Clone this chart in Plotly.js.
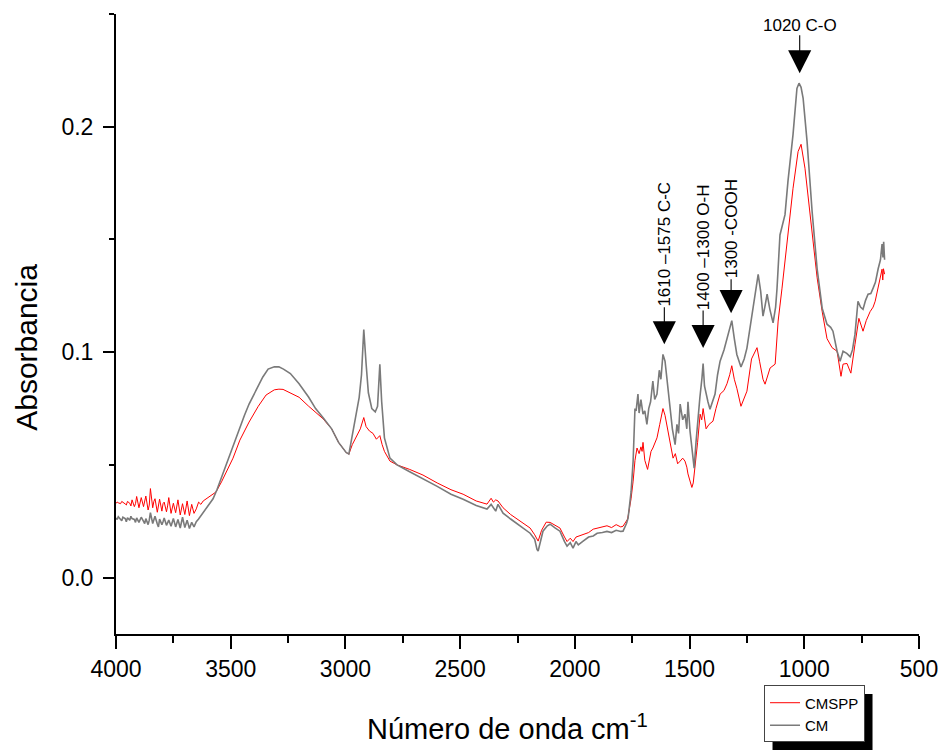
<!DOCTYPE html>
<html>
<head>
<meta charset="utf-8">
<script src="https://cdn.plot.ly/plotly-3.0.1.min.js"></script>
<style>html,body{margin:0;padding:0;background:#fff}#chart{width:942px;height:751px}</style>
</head>
<body>
<div id="chart"></div>
<script>
// CM (gray) spectrum: wavenumber (cm-1) and absorbance
const cmX = [4000,3995,3990,3980,3975,3970,3960,3955,3950,3940,3935,3930,3920,3915,3910,3900,3895,3890,3880,3875,3870,3860,3855,3850,3840,3835,3830,3820,3815,3810,3800,3795,3790,3780,3775,3770,3760,3755,3750,3740,3735,3730,3720,3715,3710,3700,3695,3690,3680,3675,3670,3660,3650,3640,3630,3620,3610,3600,3590,3577,3560,3540,3520,3500,3470,3440,3420,3390,3360,3337,3310,3290,3270,3240,3202,3160,3130,3098,3060,3030,2997,2985,2970,2955,2940,2930,2920,2910,2900,2885,2870,2860,2850,2842,2830,2806,2775,2720,2662,2600,2540,2487,2430,2383,2365,2355,2345,2335,2313,2280,2240,2195,2175,2165,2160,2150,2139,2120,2108,2085,2065,2045,2034,2020,2008,1995,1985,1964,1940,1920,1903,1880,1860,1840,1820,1800,1790,1775,1768,1755,1746,1738,1733,1725,1720,1712,1703,1695,1686,1678,1670,1660,1652,1642,1632,1625,1616,1607,1595,1585,1575,1563,1555,1548,1541,1530,1520,1512,1507,1498,1490,1480,1472,1463,1455,1446,1441,1435,1428,1420,1411,1400,1389,1378,1367,1350,1337,1325,1316,1305,1294,1276,1262,1250,1223,1210,1201,1190,1180,1172,1162,1150,1136,1125,1119,1106,1084,1071,1049,1032,1023,1014,1005,988,966,944,922,901,885,875,857,844,831,815,800,790,779,766,755,744,733,722,710,700,690,678,668,661,657,654,650];
const cmY = [0.0265,0.0258,0.027,0.026,0.0252,0.0268,0.0262,0.0248,0.0266,0.0255,0.0272,0.0262,0.0258,0.0245,0.0265,0.0245,0.0262,0.0268,0.025,0.024,0.0262,0.0235,0.0255,0.0288,0.024,0.0258,0.0272,0.0238,0.0225,0.026,0.0235,0.0248,0.0265,0.0232,0.0245,0.0255,0.0228,0.0242,0.0262,0.0225,0.0238,0.0258,0.022,0.0245,0.0268,0.0222,0.024,0.0255,0.0218,0.0232,0.0245,0.0225,0.0248,0.026,0.0275,0.029,0.0305,0.032,0.0335,0.035,0.039,0.0445,0.050,0.056,0.064,0.072,0.077,0.083,0.089,0.0925,0.0935,0.0935,0.0925,0.0905,0.086,0.080,0.075,0.071,0.066,0.060,0.0555,0.0548,0.063,0.072,0.080,0.090,0.110,0.095,0.082,0.075,0.0735,0.076,0.0946,0.078,0.062,0.053,0.050,0.047,0.044,0.0405,0.037,0.0348,0.032,0.0304,0.0325,0.031,0.0295,0.0325,0.0286,0.026,0.023,0.0197,0.017,0.0125,0.0118,0.016,0.0206,0.023,0.0237,0.022,0.0206,0.016,0.014,0.0155,0.0131,0.016,0.0145,0.0162,0.018,0.0185,0.0197,0.020,0.0205,0.020,0.021,0.0205,0.0206,0.024,0.0264,0.038,0.0517,0.075,0.074,0.0814,0.073,0.079,0.0725,0.074,0.068,0.075,0.078,0.0872,0.079,0.0814,0.092,0.088,0.099,0.096,0.085,0.075,0.066,0.059,0.068,0.064,0.077,0.070,0.0725,0.066,0.078,0.065,0.0575,0.0486,0.060,0.0725,0.080,0.0885,0.095,0.085,0.0814,0.078,0.0747,0.078,0.0814,0.090,0.096,0.101,0.106,0.110,0.114,0.106,0.099,0.0934,0.097,0.1018,0.121,0.130,0.1345,0.127,0.116,0.120,0.1257,0.119,0.113,0.120,0.128,0.152,0.161,0.176,0.1966,0.217,0.2193,0.2175,0.2126,0.1936,0.1625,0.137,0.1195,0.1124,0.111,0.1093,0.1004,0.096,0.1004,0.0995,0.098,0.101,0.108,0.1226,0.120,0.119,0.123,0.1257,0.126,0.1284,0.131,0.137,0.141,0.148,0.142,0.149,0.141];

// CMSPP (red) spectrum
const cmsppX = [4000,3995,3990,3980,3975,3970,3960,3955,3950,3940,3935,3930,3920,3915,3910,3900,3895,3890,3880,3875,3870,3860,3855,3850,3840,3835,3830,3820,3815,3810,3800,3795,3790,3780,3775,3770,3760,3755,3750,3740,3735,3730,3720,3715,3710,3700,3695,3690,3680,3675,3670,3660,3650,3640,3630,3620,3600,3580,3564,3540,3520,3490,3460,3420,3380,3346,3310,3290,3272,3240,3202,3160,3128,3098,3060,3030,2997,2985,2970,2950,2935,2920,2910,2895,2880,2865,2850,2840,2830,2806,2775,2720,2662,2600,2540,2487,2430,2383,2365,2355,2345,2335,2313,2280,2240,2195,2175,2160,2145,2125,2108,2085,2065,2045,2034,2020,2008,1995,1964,1940,1920,1903,1880,1860,1840,1820,1800,1790,1770,1755,1746,1738,1729,1720,1712,1707,1703,1695,1683,1675,1668,1660,1650,1642,1630,1616,1607,1595,1585,1572,1562,1552,1541,1530,1520,1512,1507,1498,1490,1484,1476,1465,1454,1447,1441,1428,1415,1398,1385,1367,1350,1337,1325,1316,1305,1294,1276,1265,1250,1230,1215,1206,1195,1180,1171,1160,1149,1127,1114,1097,1075,1049,1027,1014,997,984,966,944,922,901,879,857,840,831,814,797,779,762,744,730,713,700,691,674,665,661,658,655,650];
const cmsppY = [0.033,0.0335,0.0332,0.0328,0.0338,0.0335,0.0327,0.0322,0.0338,0.033,0.0318,0.0345,0.0315,0.0328,0.036,0.031,0.0335,0.0355,0.0315,0.0342,0.0362,0.030,0.0322,0.0395,0.031,0.0338,0.035,0.029,0.0315,0.0348,0.0295,0.0328,0.0335,0.0292,0.0318,0.0355,0.0285,0.0305,0.033,0.0288,0.0312,0.0345,0.0278,0.0302,0.0328,0.028,0.0315,0.034,0.0275,0.0298,0.0325,0.0285,0.0305,0.0335,0.0325,0.034,0.0355,0.037,0.038,0.0425,0.047,0.053,0.061,0.069,0.076,0.081,0.0833,0.0836,0.0835,0.082,0.080,0.076,0.073,0.0705,0.066,0.060,0.0555,0.0548,0.059,0.063,0.066,0.071,0.067,0.065,0.064,0.0614,0.063,0.059,0.056,0.0517,0.050,0.048,0.0455,0.042,0.039,0.037,0.034,0.0326,0.0352,0.0335,0.0345,0.034,0.031,0.028,0.025,0.022,0.019,0.0162,0.021,0.0246,0.0245,0.023,0.022,0.018,0.016,0.0175,0.016,0.018,0.0193,0.020,0.0215,0.022,0.0225,0.023,0.0222,0.0235,0.0225,0.0228,0.026,0.035,0.0428,0.052,0.0575,0.055,0.058,0.056,0.060,0.052,0.048,0.052,0.056,0.0575,0.060,0.062,0.068,0.075,0.072,0.066,0.060,0.053,0.055,0.0505,0.0517,0.053,0.0517,0.049,0.046,0.043,0.040,0.042,0.0486,0.060,0.0725,0.070,0.075,0.066,0.068,0.0694,0.075,0.0814,0.083,0.086,0.090,0.094,0.088,0.084,0.076,0.079,0.0827,0.097,0.100,0.102,0.096,0.088,0.0858,0.090,0.093,0.0947,0.1138,0.1284,0.149,0.1727,0.189,0.1922,0.1816,0.170,0.152,0.133,0.118,0.106,0.102,0.1004,0.0893,0.0947,0.095,0.0907,0.1035,0.115,0.1093,0.114,0.118,0.120,0.1226,0.1315,0.135,0.1368,0.132,0.137,0.1346];

// Band annotations: position (cm-1), arrow tip absorbance, label
const bandX = [1020, 1610, 1441, 1319];
const bandTip = [0.2237, 0.1035, 0.1018, 0.1173];
const bandLabels = ['1020 C-O', '1610 \u20131575 C-C', '1400 \u20131300 O-H', '1300 -COOH'];
const seriesNames = ['CMSPP', 'CM'];

const FONT = 'Arial, "Liberation Sans", sans-serif';

const traces = [
  {x: cmsppX, y: cmsppY, name: seriesNames[0], type: 'scatter', mode: 'lines',
   line: {color: '#ff0000', width: 1}},
  {x: cmX, y: cmY, name: seriesNames[1], type: 'scatter', mode: 'lines',
   line: {color: '#7a7a7a', width: 1.6}}
];

const annotations = [];
// label + arrow, text centred at arrow tail (pixel offsets)
const tailOffset = [-48, -100, -101, -84];
const textAngles = [0, -90, -90, -90];
bandX.forEach((bx, i) => {
  annotations.push({x: bx, y: bandTip[i], xref: 'x', yref: 'y', text: bandLabels[i], showarrow: true,
    ax: 0, ay: tailOffset[i], textangle: textAngles[i],
    font: {family: FONT, size: 17, color: '#000'},
    arrowhead: 2, arrowsize: 4.2, arrowwidth: 1.1, arrowcolor: '#000', standoff: 0, borderpad: 0});
});
// axis titles
annotations.push({xref: 'paper', yref: 'paper', x: -0.111, y: 0.463, text: 'Absorbancia', showarrow: false,
  textangle: -90, font: {family: FONT, size: 30, color: '#000'}, xanchor: 'center', yanchor: 'middle'});
annotations.push({xref: 'paper', yref: 'paper', x: 0.488, y: -0.15, text: 'Número de onda cm<sup>-1</sup>', showarrow: false,
  font: {family: FONT, size: 29, color: '#000'}, xanchor: 'center', yanchor: 'middle'});

const layout = {
  width: 942, height: 751,
  margin: {l: 116, r: 23, t: 14, b: 117, autoexpand: false},
  paper_bgcolor: '#fff', plot_bgcolor: '#fff',
  font: {family: FONT, color: '#000'},
  showlegend: true,
  legend: {x: 0.807, xanchor: 'left', y: -0.083, yanchor: 'top', bgcolor: '#fff', bordercolor: '#444', borderwidth: 1,
    font: {family: FONT, size: 15, color: '#000'}, tracegroupgap: 0, itemwidth: 30},
  xaxis: {range: [4000, 500], autorange: false, dtick: 500, tick0: 0, showgrid: false, zeroline: false,
    showline: true, linecolor: '#000', linewidth: 2, ticks: 'outside', ticklen: 13, tickwidth: 2, tickcolor: '#000',
    tickfont: {family: FONT, size: 23, color: '#000'},
    minor: {dtick: 250, ticks: 'outside', ticklen: 7, tickwidth: 2, tickcolor: '#000', showgrid: false}},
  yaxis: {range: [-0.025, 0.25], autorange: false, dtick: 0.1, tick0: 0, tickformat: '.1f', showgrid: false, zeroline: false,
    showline: true, linecolor: '#000', linewidth: 2, ticks: 'outside', ticklen: 11, tickwidth: 2, tickcolor: '#000',
    ticklabelstandoff: 5,
    tickfont: {family: FONT, size: 23, color: '#000'},
    minor: {dtick: 0.05, tick0: 0, ticks: 'outside', ticklen: 5, tickwidth: 2, tickcolor: '#000', showgrid: false}},
  annotations: annotations,
  shapes: [
    {type: 'rect', xref: 'paper', yref: 'paper', x0: 0.817, x1: 0.965, y0: -0.192, y1: -0.111,
     fillcolor: '#000', line: {width: 0}, layer: 'above'}
  ]
};

Plotly.newPlot('chart', traces, layout, {displayModeBar: false, staticPlot: true}).then(function(gd){
  // fit the shadow to the drawn legend box (offset 8px)
  var bg = gd.querySelector('.legend .bg');
  if (bg) {
    var r = bg.getBoundingClientRect();
    var fs = gd._fullLayout._size;
    var x0 = (r.left + 8 - fs.l) / fs.w, x1 = (r.right + 8 - fs.l) / fs.w;
    var y1 = (fs.t + fs.h - (r.top + 8)) / fs.h, y0 = (fs.t + fs.h - (r.bottom + 8)) / fs.h;
    Plotly.relayout(gd, {'shapes[0].x0': x0, 'shapes[0].x1': x1, 'shapes[0].y0': y0, 'shapes[0].y1': y1});
  }
});
</script>
</body>
</html>
